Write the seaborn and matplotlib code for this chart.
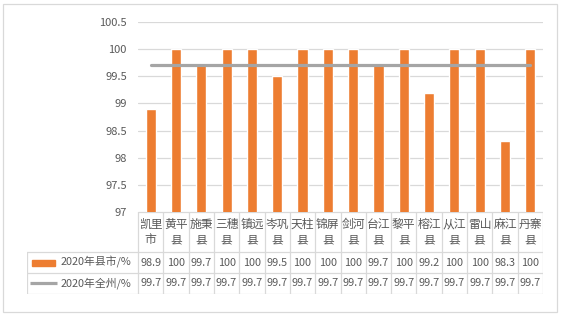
import numpy as np
import pandas as pd
import matplotlib
matplotlib.use("Agg")
import matplotlib.pyplot as plt
from matplotlib.patches import Rectangle
import seaborn as sns

sns.set_style("white")
plt.rcParams['font.family'] = ['Noto Sans CJK SC', 'DejaVu Sans']

categories = ["凯里市", "黄平县", "施秉县", "三穗县", "镇远县", "岑巩县", "天柱县", "锦屏县",
              "剑河县", "台江县", "黎平县", "榕江县", "从江县", "雷山县", "麻江县", "丹寨县"]
county_values = [98.9, 100, 99.7, 100, 100, 99.5, 100, 100, 100, 99.7, 100, 99.2, 100, 100, 98.3, 100]
state_values = [99.7] * 16
county_labels = ["98.9", "100", "99.7", "100", "100", "99.5", "100", "100", "100", "99.7", "100",
                 "99.2", "100", "100", "98.3", "100"]
state_labels = ["99.7"] * 16
series_names = ["2020年县市/%", "2020年全州/%"]
yticks = [97, 97.5, 98, 98.5, 99, 99.5, 100, 100.5]
ytick_labels = ["97", "97.5", "98", "98.5", "99", "99.5", "100", "100.5"]

W, H = 563, 319
fig = plt.figure(figsize=(W / 100, H / 100), dpi=100)

ORANGE = "#ED7D31"
GRAY = "#A5A5A5"
GRID = "#D9D9D9"
TXT = "#595959"

# outer border
fig.patches.append(Rectangle((3 / W, 1 - 312 / H), 554 / W, 308 / H, transform=fig.transFigure,
                             fill=False, edgecolor=GRID, linewidth=0.9))

def ax_rect(x0, y0, x1, y1):
    return [x0 / W, 1 - y1 / H, (x1 - x0) / W, (y1 - y0) / H]

ax = fig.add_axes(ax_rect(138, 22, 543, 212))
df = pd.DataFrame({"cat": categories, "val": county_values})
sns.barplot(data=df, x="cat", y="val", color=ORANGE, width=0.4, ax=ax, saturation=1)
sns.lineplot(x=np.arange(len(categories)), y=state_values, color=GRAY, linewidth=2.3, ax=ax)
ax.set_xlim(-0.5, len(categories) - 0.5)
ax.set_ylim(97, 100.5)
ax.set_yticks(yticks)
ax.set_yticklabels(ytick_labels, color=TXT, fontsize=8)
ax.tick_params(axis="y", length=0, pad=8)
ax.set_xticks([])
ax.set_xlabel("")
ax.set_ylabel("")
ax.grid(axis="y", color=GRID, linewidth=0.9)
ax.set_axisbelow(True)
for s in ax.spines.values():
    s.set_visible(False)

# data table
n = len(categories)
lw_cols = 111 / (405 / n)
tab = fig.add_axes(ax_rect(27, 212, 543, 294))
tab.set_xlim(-0.5 - lw_cols, n - 0.5)
tab.set_ylim(82, 0)
tab.axis("off")
lc = dict(color=GRID, linewidth=0.9)
tab.plot([-0.5, n - 0.5], [0, 0], **lc)
for yy in (40, 61, 81.5):
    tab.plot([-0.5 - lw_cols, n - 0.5], [yy, yy], **lc)
for i in range(n + 1):
    tab.plot([i - 0.5, i - 0.5], [0, 81.5], **lc)
tab.plot([-0.5 - lw_cols, -0.5 - lw_cols], [40, 81.5], **lc)

for i, c in enumerate(categories):
    tab.text(i, 20, c[:2] + "\n" + c[2:], ha="center", va="center", fontsize=8.5, color=TXT,
             linespacing=1.2)
    tab.text(i, 50.5, county_labels[i], ha="center", va="center", fontsize=7.8, color=TXT)
    tab.text(i, 71, state_labels[i], ha="center", va="center", fontsize=7.8, color=TXT)

x0 = -0.5 - lw_cols
cw = 405 / n
tab.add_patch(Rectangle((x0 + 5 / cw, 47.5), 23 / cw, 6, color=ORANGE))
tab.plot([x0 + 3 / cw, x0 + 30 / cw], [71, 71], color=GRAY, linewidth=2.3, solid_capstyle="butt")
tab.text(x0 + 34 / cw, 50.5, series_names[0], ha="left", va="center", fontsize=7.8, color=TXT)
tab.text(x0 + 34 / cw, 71, series_names[1], ha="left", va="center", fontsize=7.8, color=TXT)

fig.savefig("out.png", dpi=100)
